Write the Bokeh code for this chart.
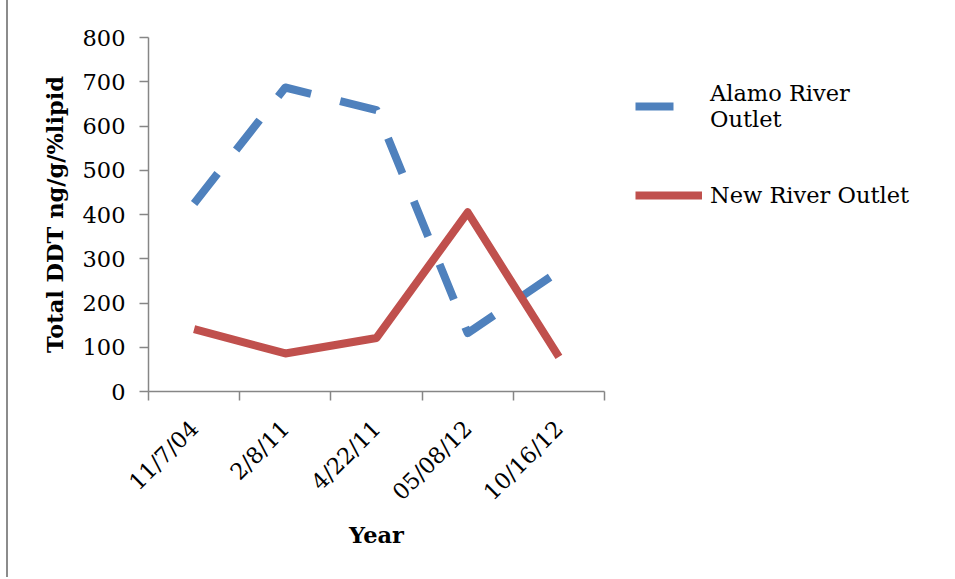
import math
from bokeh.plotting import figure
from bokeh.models import FixedTicker, Legend, LegendItem, Range1d
from bokeh.embed import file_html
from bokeh.resources import INLINE

dates = ["11/7/04", "2/8/11", "4/22/11", "05/08/12", "10/16/12"]
alamo = [425, 687, 636, 132, 272]
new_river = [141, 86, 121, 405, 78]
y_ticks = [0, 100, 200, 300, 400, 500, 600, 700, 800]
series_names = ["Alamo River\nOutlet", "New River Outlet"]

BLUE = "#4F81BD"
RED = "#C0504D"
AXIS = "#868686"
FONT = "DejaVu Serif"
FS = "22.5px"

xs = [i + 0.5 for i in range(len(dates))]
bounds = list(range(len(dates) + 1))

p = figure(frame_width=456, frame_height=354, output_backend="svg",
           toolbar_location=None,
           x_range=Range1d(0, len(dates)), y_range=Range1d(0, 800),
           min_border_left=140, min_border_right=343, min_border_top=37,
           min_border_bottom=186)
p.outline_line_color = None
p.grid.visible = False
p.stylesheets = [":host { border-left: 2px solid #8c8c8c; margin-left: 6px; }"]

r1 = p.line(xs, alamo, line_color=BLUE, line_width=8, line_dash="38 30",
            line_join="round")
r2 = p.line(xs, new_river, line_color=RED, line_width=8, line_join="round")

# x axis: labels at category centres, ticks at boundaries
xa = p.xaxis[0]
xa.ticker = FixedTicker(ticks=xs, minor_ticks=bounds)
xa.major_label_overrides = {x: d for x, d in zip(xs, dates)}
xa.major_tick_line_color = None
xa.minor_tick_out = 9
xa.minor_tick_in = 0
xa.minor_tick_line_color = AXIS
xa.minor_tick_line_width = 1.5
xa.axis_line_color = AXIS
xa.axis_line_width = 1.5
xa.major_label_orientation = math.pi / 4
xa.major_label_standoff = 24
xa.major_label_text_font = FONT
xa.major_label_text_font_size = FS
xa.major_label_text_color = "black"
xa.axis_label = "Year"
xa.axis_label_text_font = FONT
xa.axis_label_text_font_size = FS
xa.axis_label_text_font_style = "bold"
xa.axis_label_text_color = "black"
xa.axis_label_standoff = 5

ya = p.yaxis[0]
ya.ticker = FixedTicker(ticks=y_ticks)
ya.major_tick_out = 9
ya.major_tick_in = 0
ya.major_tick_line_color = AXIS
ya.major_tick_line_width = 1.5
ya.minor_tick_line_color = None
ya.axis_line_color = AXIS
ya.axis_line_width = 1.5
ya.major_label_text_font = FONT
ya.major_label_text_font_size = FS
ya.major_label_text_color = "black"
ya.major_label_standoff = 14
ya.axis_label = "Total DDT ng/g/%lipid"
ya.axis_label_text_font = FONT
ya.axis_label_text_font_size = FS
ya.axis_label_text_font_style = "bold"
ya.axis_label_text_color = "black"
ya.axis_label_standoff = 12

legend = Legend(items=[LegendItem(label=series_names[0], renderers=[r1]),
                       LegendItem(label=series_names[1], renderers=[r2])],
                location="top_left", glyph_width=67, glyph_height=76,
                label_standoff=8, border_line_color=None,
                background_fill_alpha=0, padding=10, margin=31, spacing=13,
                label_text_font=FONT, label_text_font_size=FS,
                label_text_line_height=1.5,
                label_text_color="black")
p.add_layout(legend, "right")

open("out.html", "w").write(file_html(p, INLINE))
